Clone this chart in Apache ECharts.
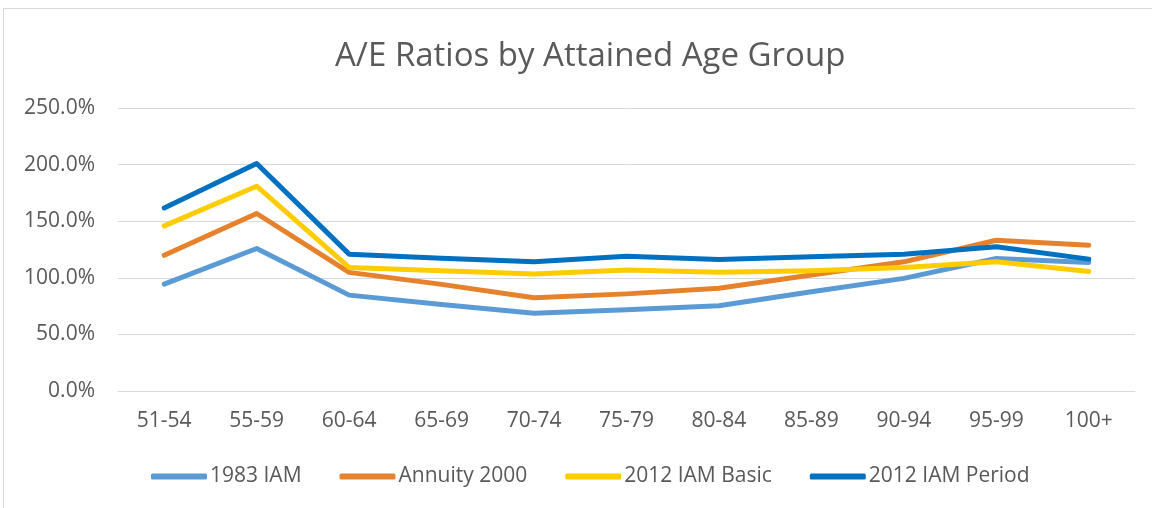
<!DOCTYPE html>
<html>
<head>
<meta charset="utf-8">
<script src="https://cdn.jsdelivr.net/npm/echarts@6/dist/echarts.min.js"></script>
<style>
  html, body { margin: 0; padding: 0; background: #fff; }
  #frame { position: absolute; left: 3px; top: 8px; width: 1160px; height: 510px; border: 1px solid #d9d9d9; }
  #chart { position: absolute; left: 0; top: 0; width: 1152px; height: 508px; }
</style>
</head>
<body>
<div id="frame"></div>
<div id="chart"></div>
<script>
const ageGroups = ['51-54', '55-59', '60-64', '65-69', '70-74', '75-79', '80-84', '85-89', '90-94', '95-99', '100+'];
const iam1983 = [94.4, 125.9, 84.7, 76.4, 68.6, 71.8, 75.3, 87.6, 99.5, 117.0, 113.6];
const annuity2000 = [120.0, 156.8, 104.8, 94.2, 82.4, 85.8, 90.7, 102.4, 114.1, 133.2, 128.8];
const iam2012Basic = [145.9, 180.9, 109.2, 106.2, 103.3, 106.8, 104.8, 106.2, 109.2, 114.1, 105.5];
const iam2012Period = [161.7, 200.9, 120.9, 117.3, 114.1, 119.1, 116.2, 118.5, 120.9, 127.4, 116.5];

const fontFam = 'Open Sans';
const textColor = '#595959';

function lineSeries(name, data, color) {
    return {
        name: name,
        type: 'line',
        data: data,
        symbol: 'none',
        lineStyle: { width: 5, color: color, cap: 'round', join: 'round' },
        itemStyle: { color: color }
    };
}

let myChart = echarts.init(document.getElementById('chart'));
let option = {
    animation: false,
    title: {
        text: 'A/E Ratios by Attained Age Group',
        left: 330,
        top: 35,
        textStyle: { fontFamily: fontFam, fontSize: 33, fontWeight: 'normal', color: textColor }
    },
    legend: {
        top: 461,
        left: 146,
        icon: 'roundRect',
        itemWidth: 56,
        itemHeight: 6,
        itemGap: 38,
        textStyle: { fontFamily: fontFam, fontSize: 21, color: textColor, padding: [0, 0, 0, -2] },
        data: ['1983 IAM', 'Annuity 2000', '2012 IAM Basic', '2012 IAM Period']
    },
    grid: { left: 118, right: 17, top: 108, bottom: 117, containLabel: false },
    xAxis: {
        type: 'category',
        data: ageGroups,
        boundaryGap: true,
        axisLine: { lineStyle: { color: '#d9d9d9', width: 1 } },
        axisTick: { show: false },
        axisLabel: { fontFamily: fontFam, fontSize: 21, color: textColor, margin: 20 }
    },
    yAxis: {
        type: 'value',
        min: 0,
        max: 250,
        interval: 50,
        axisLine: { show: false },
        axisTick: { show: false },
        splitLine: { lineStyle: { color: '#d9d9d9', width: 1 } },
        axisLabel: {
            fontFamily: fontFam, fontSize: 21, color: textColor, margin: 23,
            formatter: v => v.toFixed(1) + '%'
        }
    },
    series: [
        lineSeries('1983 IAM', iam1983, '#5B9BD5'),
        lineSeries('Annuity 2000', annuity2000, '#E5822B'),
        lineSeries('2012 IAM Basic', iam2012Basic, '#FFCC00'),
        lineSeries('2012 IAM Period', iam2012Period, '#0070C0')
    ]
};
myChart.setOption(option);
</script>
</body>
</html>
